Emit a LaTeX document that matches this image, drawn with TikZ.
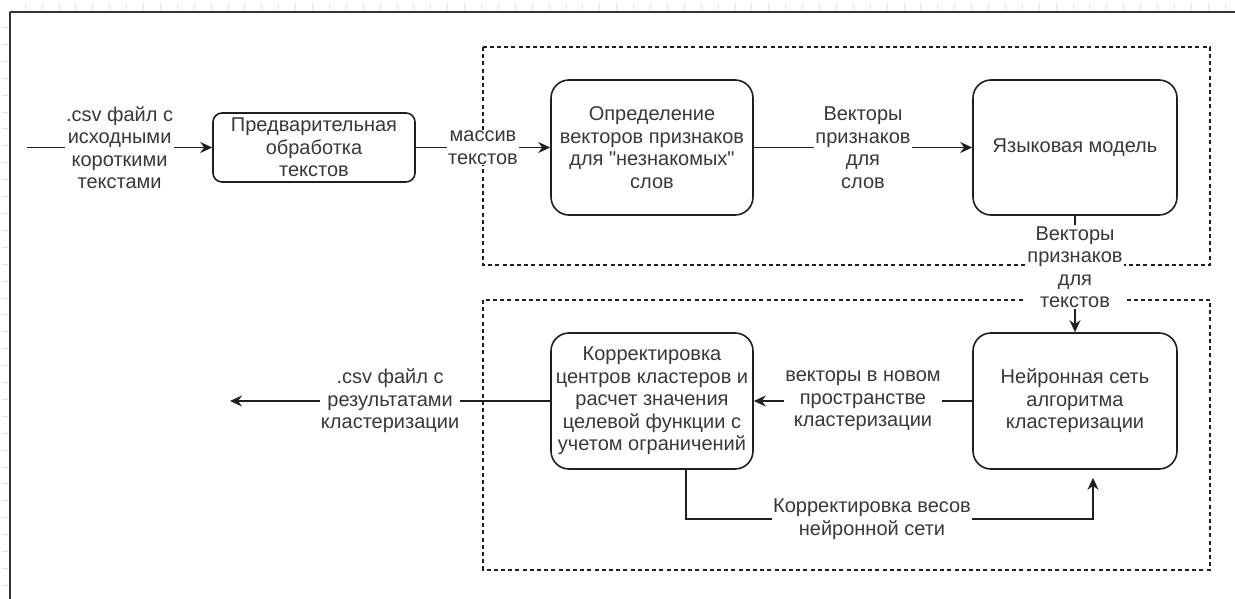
\documentclass[tikz,border=0pt]{standalone}
\usepackage{fontspec}
\setmainfont{Liberation Sans}[Ligatures=TeXOff]
\usetikzlibrary{arrows.meta}

\newcommand{\labelfont}{\fontsize{20}{22.5}\selectfont}

\begin{document}
\begin{tikzpicture}[x=1pt,y=-1pt,
  proc/.style={draw=black!88, line width=1.6pt, align=center, text=black!78,
    font=\labelfont, inner sep=2pt},
  lbl/.style={fill=white, align=center, text=black!78, font=\labelfont, inner sep=1pt},
  conn/.style={draw=black!88, line width=1.6pt},
  arr/.style={conn, -{Stealth[length=12pt,width=11pt,inset=4pt]}},
  grp/.style={draw=black!88, line width=1.3pt, dash pattern=on 4pt off 3.2pt},
  tick/.style={draw=black!11, line width=0.6pt},
  frame/.style={draw=black!80, line width=1.4pt}]

\useasboundingbox (0,0) rectangle (1235,599);

% ruler ticks along the top and left edges of the page
\foreach \i in {0,...,71} {
  \draw[tick] (25+16.9*\i,3) -- (25+16.9*\i,10);
}
\foreach \i in {1,...,35} {
  \draw[tick] (2,10.5+16.9*\i) -- (8,10.5+16.9*\i);
}
\draw[frame] (10,12) -- (1235,12);
\draw[frame] (10,12) -- (10,599);

% dashed group frames
\draw[grp] (483,47) rectangle (1210,265);
\draw[grp] (483,300) rectangle (1210,570);

% process blocks
\node[proc, rounded corners=9pt, minimum width=202pt, minimum height=69pt]
  (pre) at (314,147.5) {Предварительная\\обработка\\текстов};
\node[proc, rounded corners=18pt, minimum width=202pt, minimum height=135pt]
  (unk) at (652,147.5) {Определение\\векторов признаков\\для "незнакомых"\\слов};
\node[proc, rounded corners=18pt, minimum width=204pt, minimum height=135pt]
  (lm) at (1075,147.5) {Языковая модель};
\node[proc, rounded corners=18pt, minimum width=204pt, minimum height=136pt]
  (nn) at (1075,401) {Нейронная сеть\\алгоритма\\кластеризации};
\node[proc, rounded corners=18pt, minimum width=202pt, minimum height=136pt]
  (corr) at (652,401) {Корректировка\\центров кластеров и\\расчет значения\\целевой функции с\\учетом ограничений};

% free ends
\coordinate (src) at (27,147.5);
\coordinate (dst) at (230,401);

% connectors
\draw[arr] (src) -- node[lbl] {.csv файл с\\исходными\\короткими\\текстами} (pre);
\draw[arr] (pre) -- node[lbl] {массив\\текстов} (unk);
\draw[arr] (unk) -- node[lbl] {Векторы\\признаков\\для\\слов} (lm);
\draw[arr] (lm) -- node[lbl, pos=0.44] {Векторы\\признаков\\для\\текстов} (nn);
\draw[arr] (nn) -- node[lbl] {векторы в новом\\пространстве\\кластеризации} (corr);
\draw[arr] (corr) -- node[lbl] {.csv файл с\\результатами\\кластеризации} (dst);
\draw[arr, shorten >=8pt] (corr.south -| 686,0) -- (686,519)
  -- node[lbl, pos=0.457] {Корректировка весов\\нейронной сети} (1093,519)
  -- (nn.south -| 1093,0);

\end{tikzpicture}
\end{document}
